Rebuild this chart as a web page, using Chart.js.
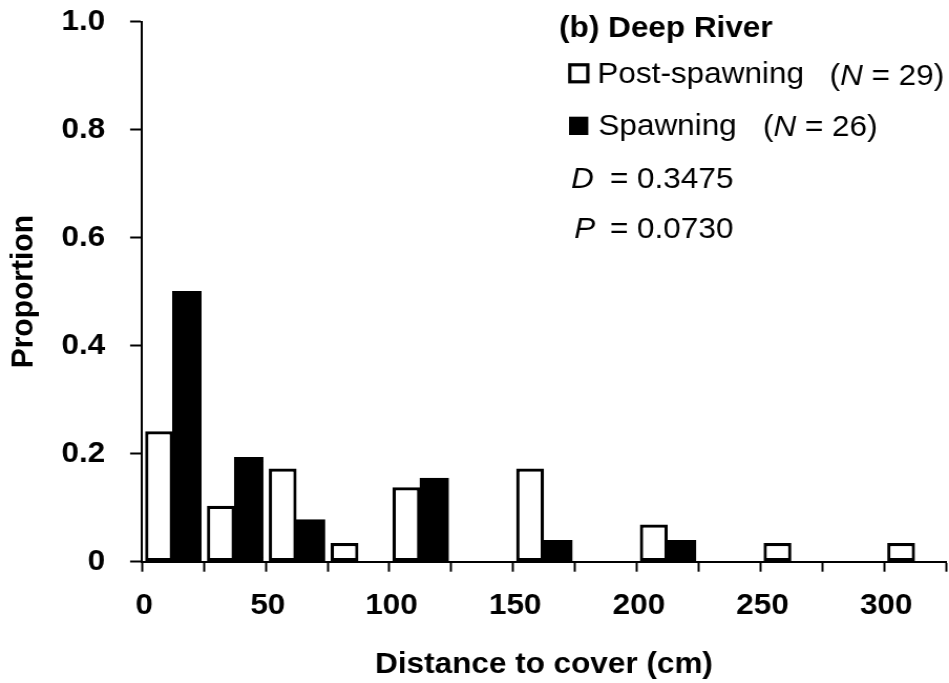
<!DOCTYPE html>
<html>
<head>
<meta charset="utf-8">
<title>Deep River – distance to cover</title>
<script src="https://cdn.jsdelivr.net/npm/chart.js@4/dist/chart.umd.min.js"></script>
<style>
  html, body { margin: 0; padding: 0; background: #ffffff; overflow: hidden; }
  #wrap { width: 949px; height: 683px; }
  canvas { display: block; }
</style>
</head>
<body>
<div id="wrap">
  <!-- drawn on a slightly narrower canvas and widened by CSS for the broad lettering -->
  <canvas id="chart" width="904" height="683" style="width:949px;height:683px"></canvas>
</div>
<script>
// Distance-to-cover bins (cm); each bin is 25 cm wide, starting at the value below
const binStarts = [0, 25, 50, 75, 100, 125, 150, 175, 200, 225, 250, 275, 300];
const binWidth = 25;

// Proportion of fish in each bin (null = no fish in that bin)
const postSpawning = [0.2414, 0.1034, 0.1724, 0.0345, 0.1379, null, 0.1724, null, 0.0690, null, 0.0345, null, 0.0345];
const spawning     = [0.5000, 0.1923, 0.0769, null,   0.1538, null, 0.0385, null, 0.0385, null, null,   null, null];

// Axis labels
const xTickLabels = [0, 50, 100, 150, 200, 250, 300];
const yTickValues = [0, 0.2, 0.4, 0.6, 0.8, 1.0];

// Panel annotation
const panelTitle = '(b) Deep River';
const seriesNames = ['Post-spawning', 'Spawning'];
const sampleSizes = [29, 26];
const ksD = '0.3475';
const ksP = '0.0730';

const FAMILY = '"Liberation Sans", Arial, Helvetica, sans-serif';

const binEdges = binStarts.concat([binStarts[binStarts.length - 1] + binWidth]);
const toPoints = arr => arr.map((v, i) => ({ x: binStarts[i] + binWidth / 2, y: v }));

// Draws the panel title, the legend and the K–S statistics in the upper right
const annotationPlugin = {
  id: 'panelAnnotation',
  afterDraw(chart) {
    const ctx = chart.ctx;
    ctx.save();
    ctx.fillStyle = '#000';
    ctx.strokeStyle = '#000';
    ctx.textAlign = 'left';
    ctx.textBaseline = 'alphabetic';
    const reg = `30px ${FAMILY}`;
    const ital = `italic 30px ${FAMILY}`;
    const bold = `bold 30px ${FAMILY}`;

    const run = (x, y, parts) => {
      for (const [text, font] of parts) {
        ctx.font = font;
        ctx.fillText(text, x, y);
        x += ctx.measureText(text).width;
      }
    };

    ctx.font = bold;
    ctx.fillText(panelTitle, 532.6, 37);

    // open square: post-spawning
    ctx.lineWidth = 3.2;
    ctx.strokeRect(542.8, 64.8, 17.1, 17);
    ctx.font = reg;
    ctx.fillText(seriesNames[0], 569.1, 83.3);
    run(790.2, 84.5, [['(', reg], ['N', ital], [` = ${sampleSizes[0]})`, reg]]);

    // filled square: spawning
    ctx.fillRect(542, 116.7, 18.4, 18.3);
    ctx.font = reg;
    ctx.fillText(seriesNames[1], 570, 135);
    run(726.7, 135.5, [['(', reg], ['N', ital], [` = ${sampleSizes[1]})`, reg]]);

    // Kolmogorov–Smirnov result
    ctx.font = ital;
    ctx.fillText('D', 543.9, 188.3);
    ctx.font = reg;
    ctx.fillText(`= ${ksD}`, 581, 188.3);
    ctx.font = ital;
    ctx.fillText('P', 547, 238.3);
    ctx.font = reg;
    ctx.fillText(`= ${ksP}`, 581, 238.3);
    ctx.restore();
  }
};

const canvas = document.getElementById('chart');
const chart = new Chart(canvas, {
  type: 'bar',
  data: {
    datasets: [
      {
        label: seriesNames[0],
        data: toPoints(postSpawning),
        backgroundColor: '#ffffff',
        borderColor: '#000000',
        borderWidth: 3.2,
        borderSkipped: false,
        inflateAmount: 0
      },
      {
        label: seriesNames[1],
        data: toPoints(spawning),
        backgroundColor: '#000000',
        borderColor: '#000000',
        borderWidth: 3,
        borderSkipped: false,
        inflateAmount: 0.8
      }
    ]
  },
  options: {
    responsive: false,
    animation: false,
    events: [],
    categoryPercentage: 0.9,
    barPercentage: 1.0,
    layout: { padding: { top: 21.7, right: 2.9, left: 0, bottom: 0 } },
    plugins: {
      legend: { display: false },
      tooltip: { enabled: false }
    },
    scales: {
      x: {
        type: 'linear',
        min: binEdges[0],
        max: binEdges[binEdges.length - 1],
        offset: false,
        afterBuildTicks: s => { s.ticks = binEdges.map(v => ({ value: v })); },
        afterFit: s => { s.height = 121.3; s.paddingLeft = 0; s.paddingRight = 0; },
        grid: {
          display: true,
          offset: false,
          drawOnChartArea: false,
          drawTicks: true,
          tickLength: 10,
          tickWidth: 2,
          tickColor: '#000'
        },
        border: { display: true, color: '#000', width: 2 },
        ticks: {
          autoSkip: false,
          maxRotation: 0,
          minRotation: 0,
          color: '#000',
          padding: 15.9,
          labelOffset: 2,
          font: { family: FAMILY, size: 30, weight: 'bold' },
          callback: v => (xTickLabels.includes(v) ? String(v) : '')
        },
        title: {
          display: true,
          text: 'Distance to cover (cm)',
          color: '#000',
          font: { family: FAMILY, size: 30, weight: 'bold' },
          padding: { top: 0, bottom: 0 }
        }
      },
      y: {
        min: 0,
        max: 1,
        afterBuildTicks: s => { s.ticks = yTickValues.map(v => ({ value: v })); },
        afterFit: s => { s.width = 135.3; s.paddingTop = 0; s.paddingBottom = 0; },
        grid: {
          display: true,
          drawOnChartArea: false,
          drawTicks: true,
          tickLength: 11.4,
          tickWidth: 2,
          tickColor: '#000'
        },
        border: { display: true, color: '#000', width: 2 },
        ticks: {
          color: '#000',
          padding: 23.6,
          font: { family: FAMILY, size: 30, weight: 'bold' },
          callback: v => (v === 0 ? '0' : v.toFixed(1))
        },
        title: {
          display: true,
          text: 'Proportion',
          color: '#000',
          font: { family: FAMILY, size: 30, weight: 'bold' },
          padding: { top: 5, bottom: 0 }
        }
      }
    }
  },
  plugins: [annotationPlugin]
});
canvas.style.width = '949px';
canvas.style.height = '683px';
</script>
</body>
</html>
